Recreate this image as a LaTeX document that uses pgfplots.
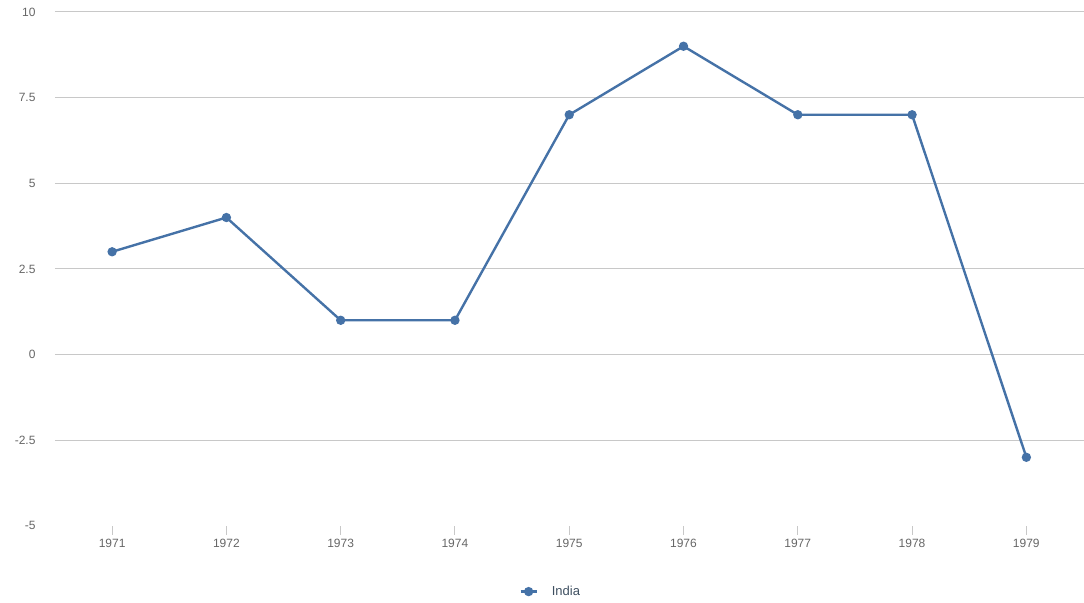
\documentclass[border=0pt]{standalone}
\usepackage{pgfplots}
\pgfplotsset{compat=1.18}
\usepackage{fontspec}
\setmainfont{Liberation Sans}
\definecolor{hcblue}{HTML}{4572A7}
\definecolor{gridc}{HTML}{C8C8C8}
\definecolor{labc}{HTML}{666666}
\definecolor{legc}{HTML}{3E4F60}
\begin{document}
\begin{tikzpicture}
\begin{axis}[
  name=ax,
  scale only axis,
  width=1029pt, height=514pt,
  xmin=1970.5, xmax=1979.5,
  ymin=-5, ymax=10,
  axis line style={draw=none},
  xtick={1971,...,1979},
  xticklabels={1971,1972,1973,1974,1975,1976,1977,1978,1979},
  ytick={-2.5,0,2.5,5,7.5,10},
  yticklabels={-2.5,0,2.5,5,7.5,10},
  extra y ticks={-5},
  extra y tick labels={-5},
  extra y tick style={grid=none},
  ymajorgrids,
  grid style={gridc, line width=1pt},
  tick label style={font=\fontsize{12}{14}\selectfont, text=labc},
  ytick style={draw=none},
  yticklabel style={anchor=east, xshift=-7pt},
  xtick pos=bottom,
  ytick pos=left,
  tick align=outside,
  xtick style={draw=gridc, line width=1pt},
  major tick length=9pt,
  xticklabel style={yshift=-1pt},
  legend style={at={(0.482,-0.128)}, anchor=center, draw=none, fill=none,
    font=\fontsize{13}{15}\selectfont, text=legc},
  legend image code/.code={\draw[#1, line width=2.4pt, mark repeat=2, mark phase=2] plot coordinates {(0pt,0pt) (8pt,0pt) (16pt,0pt)};\path (28pt,0pt);},
  clip=false,
]
\addplot[hcblue, line width=2.4pt, mark=*, mark size=3.4pt, mark options={fill=hcblue, draw=hcblue}]
  coordinates {(1971,3) (1972,4) (1973,1) (1974,1) (1975,7) (1976,9) (1977,7) (1978,7) (1979,-3)};
\addlegendentry{India}
\end{axis}
\path[use as bounding box] ([shift={(-55pt,-77pt)}]ax.south west) rectangle ([shift={(0pt,12pt)}]ax.north east);
\end{tikzpicture}
\end{document}
